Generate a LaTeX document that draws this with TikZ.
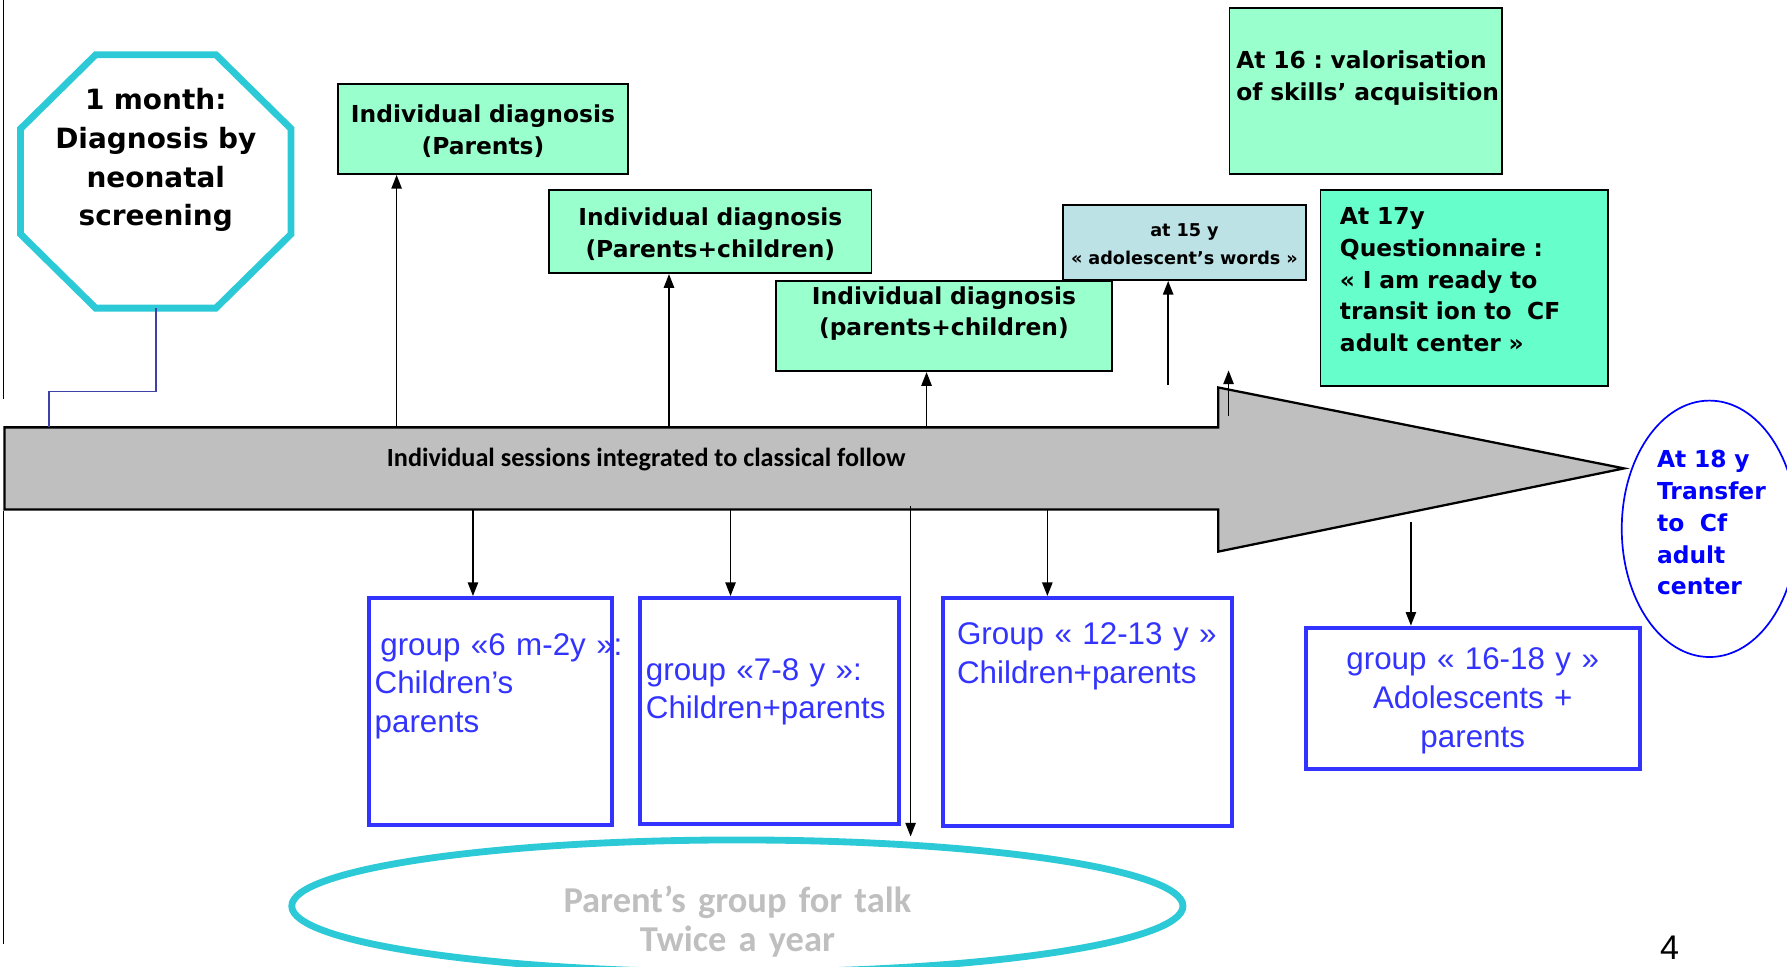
\documentclass[tikz,border=0pt]{standalone}
\usepackage{fontspec}
\setmainfont{DejaVu Sans}
\newfontfamily\verd{DejaVu Sans}
\newfontfamily\calib{Carlito}
\newfontfamily\arial{Liberation Sans}
\usetikzlibrary{arrows.meta,positioning,shapes.geometric}
\frenchspacing

\definecolor{mint}{RGB}{153,255,204}
\definecolor{brightmint}{RGB}{102,255,204}
\definecolor{paleblue}{RGB}{189,226,230}
\definecolor{octcyan}{RGB}{44,201,214}
\definecolor{groupblue}{RGB}{51,51,255}
\definecolor{linkblue}{RGB}{64,64,170}
\definecolor{bargray}{RGB}{191,191,191}

\tikzset{
  diag/.style={draw=black, line width=1.5pt, fill=mint, inner sep=0pt,
    anchor=north west, align=center,
    font=\verd\bfseries\fontsize{20.5}{28}\selectfont},
  grp/.style={draw=groupblue, line width=3.5pt, fill=white, text=groupblue,
    inner sep=0pt, anchor=north west, align=left,
    font=\arial\fontsize{27.5}{34}\selectfont},
  arr/.style={-{Triangle[length=12pt,width=9pt]}, line width=1.5pt},
}

\begin{document}
\begin{tikzpicture}[x=1pt,y=-1pt]
  \useasboundingbox (0,0) rectangle (1568,848);

  \newcommand\BarTop{375}
  \newcommand\BarBot{447}

  %% frame line
  \draw[line width=1.5pt] (3,0) -- (3,350);
  \draw[line width=1.5pt] (3,448) -- (3,828);

  %% big grey arrow
  \draw[fill=bargray, line width=2pt]
    (4,\BarTop) -- (1069,\BarTop) -- (1069,340) -- (1425,411)
    -- (1069,484) -- (1069,\BarBot) -- (4,\BarBot) -- cycle;
  \node[font=\calib\bfseries\fontsize{23}{28}\selectfont, anchor=base]
    (follow) at (567,409) {Individual sessions integrated to classical follow};

  %% octagon
  \node[inner sep=0pt, anchor=north west, align=center,
    text width=237pt, text height=48pt, text depth=174pt,
    font=\verd\bfseries\fontsize{24.5}{34}\selectfont]
    (screen) at (18,48) {1 month:\\Diagnosis by\\neonatal\\screening};
  \draw[octcyan, line width=6pt, line join=miter]
    ([xshift=66pt]screen.north west) -- ([xshift=-66pt]screen.north east)
    -- ([yshift=-65pt]screen.north east) -- ([yshift=65pt]screen.south east)
    -- ([xshift=-66pt]screen.south east) -- ([xshift=66pt]screen.south west)
    -- ([yshift=65pt]screen.south west) -- ([yshift=-65pt]screen.north west)
    -- cycle;

  \coordinate (s0) at (43,\BarTop);
  \draw[linkblue, line width=1.5pt] (screen.south) -- ++(0,73) -| (s0); %% screen -> bar

  %% boxes above
  \node[diag, text width=254pt, text height=34pt, text depth=45pt]
    (d1) at (296,73) {Individual diagnosis\\(Parents)};
  \node[diag, text width=283pt, text height=31pt, text depth=42pt]
    (d2) at (481,166) {Individual diagnosis\\(Parents+children)};
  \node[diag, fill=paleblue, font=\verd\bfseries\fontsize{15.5}{24}\selectfont,
    text width=213pt, text height=28pt, text depth=38pt]
    (w15) at (932,179) {at 15 y\\« adolescent’s words »};
  \node[diag, text width=295pt, text height=20pt, text depth=59pt]
    (d3) at (680,246) {Individual diagnosis\\(parents+children)};
  \node[diag, align=left, inner xsep=6pt, text width=227pt,
    text height=53pt, text depth=93pt]
    (v16) at (1078,6) {\mbox{At 16 : valorisation}\\\mbox{of skills’ acquisition}};
  \node[diag, fill=brightmint, align=left, inner xsep=17pt, text width=218pt,
    text height=30pt, text depth=142pt]
    (r17) at (1158,166) {At 17y\\Questionnaire~:\\\mbox{«~I am ready to}\\\mbox{transit ion to~~CF}\\adult center~»};

  %% groups below
  \node[grp, inner xsep=5pt, text width=203pt, text height=50pt, text depth=149pt]
    (g1) at (322,523) {\mbox{\hspace*{5pt}group «6 m-2y »:}\\Children’s\\parents};
  \node[grp, inner xsep=5pt, text width=217pt, text height=72pt, text depth=126pt]
    (g2) at (560,523) {\mbox{group «7-8 y »:}\\Children+parents};
  \node[grp, inner xsep=12pt, text width=229pt, text height=41pt, text depth=159pt]
    (g3) at (826,523) {\mbox{Group « 12-13 y »}\\Children+parents};
  \node[grp, align=center, text width=293pt, text height=37pt, text depth=87pt]
    (g4) at (1144,549) {group « 16-18 y »\\Adolescents +\\parents};

  \node[ellipse, draw=octcyan, line width=6pt, minimum width=782pt,
    minimum height=116pt, inner sep=0pt, text width=420pt, text height=24pt,
    text depth=12pt, align=center, text=bargray,
    font=\calib\bfseries\fontsize{32}{34}\selectfont]
    (talk) at (647,795) {Parent’s group for talk\\Twice a year};

  \node[ellipse, draw=blue, line width=1.5pt, minimum width=154pt,
    minimum height=225pt, inner sep=0pt, text width=92pt, text height=16pt,
    text depth=124pt, align=left, text=blue,
    font=\verd\bfseries\fontsize{20.5}{28}\selectfont]
    (t18) at (1500,464) {At 18 y\\\mbox{Transfer}\\to~~Cf\\adult\\center};

  \node[font=\arial\fontsize{30}{30}\selectfont, inner sep=0pt]
    (pagenum) at (1465,832) {4};

  %% bar -> boxes above
  \coordinate (s1) at (348,\BarTop);
  \draw[arr] (s1) -- (s1 |- d1.south); %% bar -> d1
  \coordinate (s2) at (587,\BarTop);
  \draw[arr] (s2) -- (s2 |- d2.south); %% bar -> d2
  \coordinate (s3) at (813,\BarTop);
  \draw[arr] (s3) -- (s3 |- d3.south); %% bar -> d3
  \coordinate (s4) at (1025,338);
  \draw[arr] (s4) -- (s4 |- w15.south); %% -> w15
  \coordinate (s5) at (1078,365);
  \coordinate (s5top) at (1078,325);
  \draw[arr] (s5) -- (s5top);

  %% bar -> groups below
  \coordinate (b1) at (415,\BarBot);
  \draw[arr] (b1) -- (b1 |- g1.north); %% bar -> g1
  \coordinate (b2) at (641,\BarBot);
  \draw[arr] (b2) -- (b2 |- g2.north); %% bar -> g2
  \coordinate (b3) at (799,444);
  \draw[arr] (b3) -- (b3 |- talk.north); %% bar -> talk
  \coordinate (b4) at (919,\BarBot);
  \draw[arr] (b4) -- (b4 |- g3.north); %% bar -> g3
  \coordinate (b5) at (1238,458);
  \draw[arr] (b5) -- (b5 |- g4.north); %% bar -> g4

\end{tikzpicture}
\end{document}
